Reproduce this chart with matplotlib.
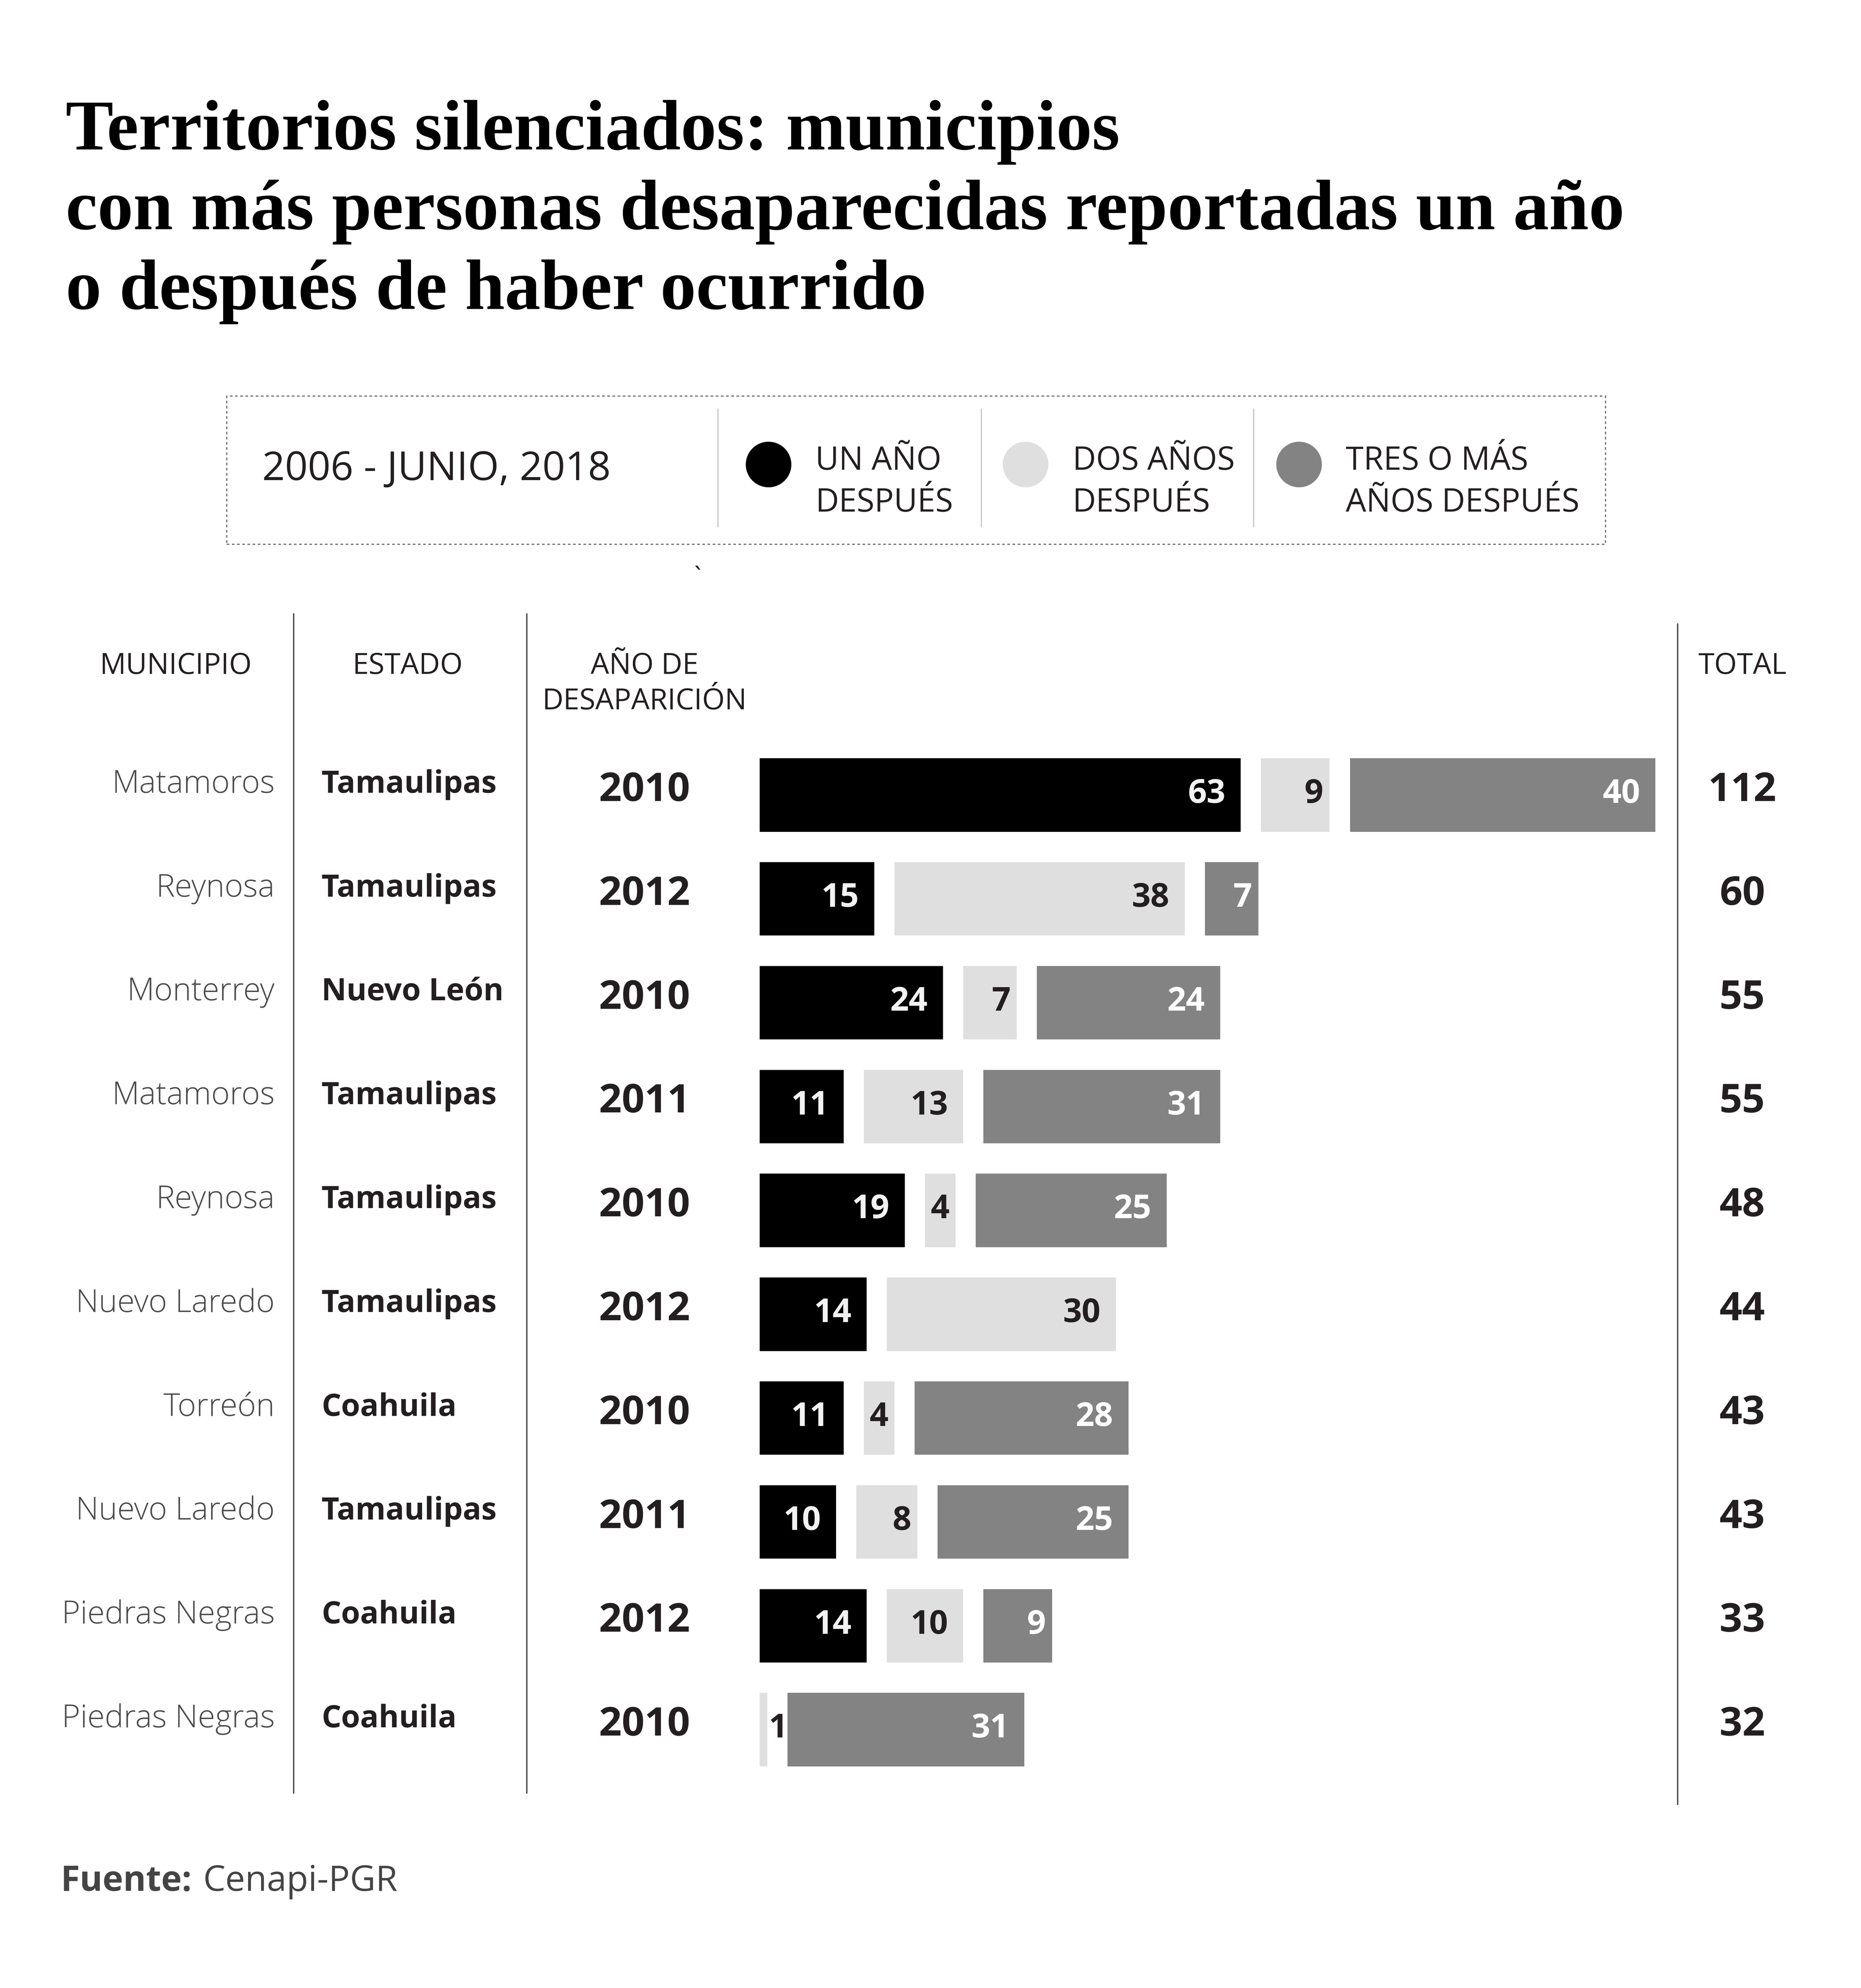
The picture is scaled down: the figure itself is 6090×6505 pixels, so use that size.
import matplotlib
matplotlib.use("Agg")
import matplotlib.pyplot as plt
from matplotlib.lines import Line2D
from matplotlib.patches import Rectangle, Ellipse
from matplotlib.transforms import blended_transform_factory

# Data
municipios = ["Matamoros", "Reynosa", "Monterrey", "Matamoros", "Reynosa",
              "Nuevo Laredo", "Torreón", "Nuevo Laredo", "Piedras Negras", "Piedras Negras"]
estados = ["Tamaulipas", "Tamaulipas", "Nuevo León", "Tamaulipas", "Tamaulipas",
           "Tamaulipas", "Coahuila", "Tamaulipas", "Coahuila", "Coahuila"]
anios = ["2010", "2012", "2010", "2011", "2010", "2012", "2010", "2011", "2012", "2010"]
un_anio = [63, 15, 24, 11, 19, 14, 11, 10, 14, 0]
dos_anios = [9, 38, 7, 13, 4, 30, 4, 8, 10, 1]
tres_anios = [40, 7, 24, 31, 25, 0, 28, 25, 9, 31]
totales = [112, 60, 55, 55, 48, 44, 43, 43, 33, 32]

series = [un_anio, dos_anios, tres_anios]
colores = ["#000000", "#dfdfdf", "#838383"]
color_texto = ["#f2f2f2", "#231f20", "#ffffff"]
leyenda = ["UN AÑO\nDESPUÉS", "DOS AÑOS\nDESPUÉS", "TRES O MÁS\nAÑOS DESPUÉS"]

# Canvas (coordinates in px of a 1470 x 1570 layout)
W, H = 1470.0, 1570.0
fig = plt.figure(figsize=(7001 / 500, 7478 / 500), dpi=100)
fig.patch.set_facecolor("white")

def fx(x):
    return x / W

def fy(y):
    return 1 - y / H

def pt(px):
    return px * 0.6858

SERIF = ["Liberation Serif", "DejaVu Serif"]
SANS = ["Open Sans", "DejaVu Sans"]

# Title
titulo = ["Territorios silenciados: municipios",
          "con más personas desaparecidas reportadas un año",
          "o después de haber ocurrido"]
for i, linea in enumerate(titulo):
    fig.text(fx(52), fy(118 + 63 * i), linea, family=SERIF, weight="bold",
             size=pt(56.5), color="#000000", va="baseline", ha="left")

# Legend box
fig.add_artist(Rectangle((fx(179), fy(430)), fx(1268) - fx(179), fy(313) - fy(430),
                         transform=fig.transFigure, fill=False, edgecolor="#777777",
                         linewidth=0.7, linestyle=(0, (2, 2))))
fig.text(fx(207), fy(379), "2006 - JUNIO, 2018", family=SANS, size=pt(31.5),
         color="#231f20", va="baseline", ha="left")
for xs in [567, 775, 990]:
    fig.add_artist(Line2D([fx(xs), fx(xs)], [fy(323), fy(416)], transform=fig.transFigure,
                          color="#bbbbbb", linewidth=0.5))
for cx, col, lab in zip([607, 810, 1026], colores, leyenda):
    fig.add_artist(Ellipse((fx(cx), fy(367)), 36 / W, 36 / H, transform=fig.transFigure,
                           facecolor=col, edgecolor="none"))
    l1, l2 = lab.split("\n")
    fig.text(fx(cx + 37), fy(371), l1, family=SANS, size=pt(25.5), color="#231f20",
             va="baseline", ha="left")
    fig.text(fx(cx + 37), fy(404), l2, family=SANS, size=pt(25.5), color="#231f20",
             va="baseline", ha="left")
fig.text(fx(551), fy(462), "`", family=SANS, size=pt(20), color="#231f20",
         va="baseline", ha="center")

# Table headers
fig.text(fx(139), fy(532), "MUNICIPIO", family=SANS, size=pt(23), color="#231f20",
         va="baseline", ha="center")
fig.text(fx(322), fy(532), "ESTADO", family=SANS, size=pt(23), color="#231f20",
         va="baseline", ha="center")
fig.text(fx(509), fy(532), "AÑO DE", family=SANS, size=pt(23), color="#231f20",
         va="baseline", ha="center")
fig.text(fx(509), fy(560), "DESAPARICIÓN", family=SANS, size=pt(23), color="#231f20",
         va="baseline", ha="center")
fig.text(fx(1376), fy(532), "TOTAL", family=SANS, size=pt(23), color="#231f20",
         va="baseline", ha="center")

# Column separators
for xs, y1, y2 in [(232, 485, 1416), (416, 485, 1416), (1325, 493, 1425)]:
    fig.add_artist(Line2D([fx(xs), fx(xs)], [fy(y1), fy(y2)], transform=fig.transFigure,
                          color="#444444", linewidth=0.7))

# Bars axes
scale = 6.03          # px per person
gap = 16 / scale      # gap between segments in data units
ax_left, ax_top, ax_bottom = 600, 587, 1407
xmax = 120
ax = fig.add_axes([fx(ax_left), fy(ax_bottom), xmax * scale / W, (ax_bottom - ax_top) / H])
ax.set_xlim(0, xmax)
ax.set_ylim(len(municipios) - 0.5, -0.5)
ax.axis("off")

filas = list(range(len(municipios)))
for i in filas:
    left = 0
    for s, vals in enumerate(series):
        v = vals[i]
        if v == 0:
            continue
        ax.barh(i, v, left=left, height=58 / 82, color=colores[s], edgecolor="none")
        end = left + v
        wpx = v * scale
        if wpx < 15:
            ax.text(end + 1 / scale, i + 0.073, str(v), family=SANS, weight="bold",
                    size=pt(26), color="#231f20", ha="left", va="baseline")
        else:
            pad = 12 if wpx >= 60 else 5
            ax.text(end - pad / scale, i + 0.073, str(v), family=SANS, weight="bold",
                    size=pt(26), color=color_texto[s], ha="right", va="baseline")
        left = end + gap

# Row texts
tr = blended_transform_factory(fig.transFigure, ax.transData)
for i in filas:
    fig.text(fx(217), i - 0.025, municipios[i], transform=tr, family=SANS, weight="light",
             size=pt(25), color="#4a4a4a", ha="right", va="baseline")
    fig.text(fx(254), i - 0.025, estados[i], transform=tr, family=SANS, weight="bold",
             size=pt(24.3), color="#231f20", ha="left", va="baseline")
    fig.text(fx(509), i + 0.055, anios[i], transform=tr, family=SANS, weight="bold",
             size=pt(31.5), color="#231f20", ha="center", va="baseline")
    fig.text(fx(1376), i + 0.055, str(totales[i]), transform=tr, family=SANS, weight="bold",
             size=pt(31.5), color="#231f20", ha="center", va="baseline")

# Source
t = fig.text(fx(48), fy(1493), "Fuente:", family=SANS, weight="bold", size=pt(27.5),
             color="#444444", ha="left", va="baseline")
fig.canvas.draw()
bb = t.get_window_extent()
x_end = bb.x1 / fig.bbox.width
fig.text(x_end + fx(9), fy(1493), "Cenapi-PGR", family=SANS, size=pt(28),
         color="#444444", ha="left", va="baseline")

# 435 dpi keeps the picture under 40 Mpx while keeping the layout
fig.savefig("out.png", dpi=435, facecolor="white")
